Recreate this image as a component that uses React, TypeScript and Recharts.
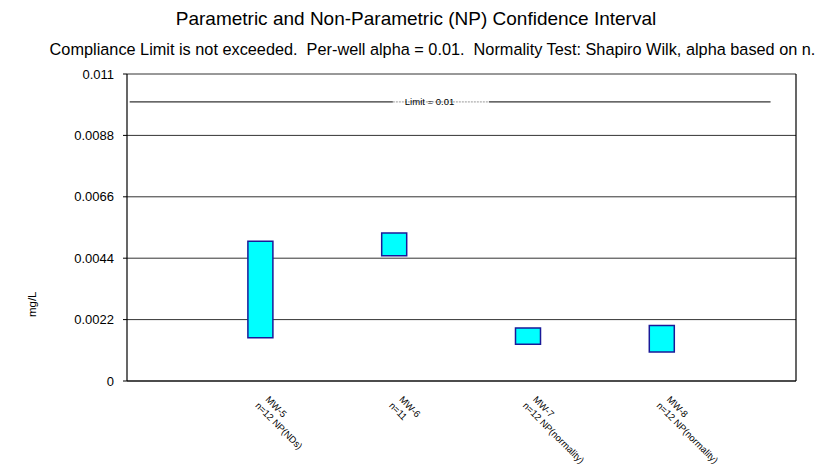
import React from "react";
import {
  ComposedChart,
  Bar,
  XAxis,
  YAxis,
  CartesianGrid,
  ReferenceLine,
} from "recharts";

const wells = ["MW-5", "MW-6", "MW-7", "MW-8"];
const wellNotes = ["n=12 NP(NDs)", "n=11", "n=12 NP(normality)", "n=12 NP(normality)"];
const wellPositions = [1, 2, 3, 4];
const lowerLimits = [0.00155, 0.00449, 0.00132, 0.00104];
const upperLimits = [0.00501, 0.0053, 0.0019, 0.00199];
const complianceLimit = 0.01;
const limitLabel = "Limit = 0.01";
const limitStart = 0.02;
const limitEnd = 4.81;
const yTicks = [0, 0.0022, 0.0044, 0.0066, 0.0088, 0.011];
const yTickLabels = ["0", "0.0022", "0.0044", "0.0066", "0.0088", "0.011"];

const data = wells.map((w, i) => ({
  pos: wellPositions[i],
  name: w,
  note: wellNotes[i],
  range: [lowerLimits[i], upperLimits[i]],
}));

const FONT = "'Liberation Sans', Arial, sans-serif";

const XTick = (props: any) => {
  const { x, y, payload } = props;
  const idx = wellPositions.indexOf(payload.value);
  if (idx < 0) return null;
  return (
    <g transform={`translate(${x + 2},${y + 9})`}>
      <text
        transform="rotate(45)"
        fontFamily={FONT}
        fontSize={9.5}
        fill="#000"
        textAnchor="start"
      >
        <tspan x={3} dy={0}>{wells[idx]}</tspan>
        <tspan x={0} dy={11.5}>{wellNotes[idx]}</tspan>
      </text>
    </g>
  );
};

const LimitLabel = (props: any) => {
  const { viewBox } = props;
  if (!viewBox) return null;
  const x0 = viewBox.x;
  const w = viewBox.width;
  const cx = x0 + w * 0.4855;
  const y = viewBox.y;
  return (
    <g>
      <rect x={cx - 48} y={y - 2} width={96} height={4} fill="#fff" />
      <line x1={cx - 48} x2={cx + 48} y1={y} y2={y} stroke="#999" strokeDasharray="2 1" strokeWidth={1} />
      <text x={cx - 36} y={y + 3.5} textAnchor="start" fontFamily={FONT} fontSize={9.5} fill="#000">
        {limitLabel}
      </text>
    </g>
  );
};

const YLabel = (props: any) => {
  const { viewBox } = props;
  const cx = 36;
  const cy = viewBox ? viewBox.y + viewBox.height * 0.75 : 305;
  return (
    <text
      x={cx}
      y={cy}
      transform={`rotate(-90, ${cx}, ${cy})`}
      textAnchor="middle"
      fontFamily={FONT}
      fontSize={11.5}
      fill="#000"
    >
      mg/L
    </text>
  );
};

export default function App() {
  return (
    <div style={{ position: "absolute", left: 0, top: 0, width: 835, height: 469, background: "#fff" }}>
      <div
        style={{
          position: "absolute",
          left: 0,
          top: 7.5,
          width: 832,
          textAlign: "center",
          fontFamily: FONT,
          fontSize: 19,
          lineHeight: 1.15,
          whiteSpace: "nowrap",
        }}
      >
        Parametric and Non-Parametric (NP) Confidence Interval
      </div>
      <div
        style={{
          position: "absolute",
          left: 0,
          top: 40,
          width: 865,
          textAlign: "center",
          fontFamily: FONT,
          fontSize: 16.3,
          lineHeight: 1.15,
          whiteSpace: "pre",
        }}
      >
        {"Compliance Limit is not exceeded.  Per-well alpha = 0.01.  Normality Test: Shapiro Wilk, alpha based on n."}
      </div>
      <div style={{ position: "absolute", left: 0, top: 0 }}>
        <ComposedChart
          width={835}
          height={469}
          data={data}
          margin={{ top: 74, right: 39, bottom: 0, left: 0 }}
        >
          <CartesianGrid horizontal vertical={false} stroke="#333" strokeWidth={1} />
          <XAxis
            type="number"
            dataKey="pos"
            domain={[0, 5]}
            ticks={wellPositions}
            interval={0}
            tickLine={false}
            axisLine={{ stroke: "#000", strokeWidth: 1.2 }}
            height={88}
            tick={<XTick />}
            allowDataOverflow
          />
          <YAxis
            type="number"
            domain={[0, 0.011]}
            ticks={yTicks}
            interval={0}
            width={127}
            tickSize={4}
            tickMargin={9}
            tickLine={{ stroke: "#000" }}
            axisLine={{ stroke: "#000", strokeWidth: 1.2 }}
            tick={{ fontFamily: FONT, fontSize: 13, fill: "#000" }}
            tickFormatter={(v: number) => {
              const i = yTicks.indexOf(v);
              return i >= 0 ? yTickLabels[i] : String(v);
            }}
            label={<YLabel />}
          />
          <ReferenceLine x={5} stroke="#000" strokeWidth={1.2} ifOverflow="visible" />
          <ReferenceLine
            segment={[
              { x: limitStart, y: complianceLimit },
              { x: limitEnd, y: complianceLimit },
            ]}
            stroke="#000"
            strokeWidth={1}
            ifOverflow="visible"
            label={<LimitLabel />}
          />
          <Bar
            dataKey="range"
            barSize={25}
            fill="#00FFFF"
            stroke="#1a1a99"
            strokeWidth={1.5}
            isAnimationActive={false}
          />
        </ComposedChart>
      </div>
    </div>
  );
}
